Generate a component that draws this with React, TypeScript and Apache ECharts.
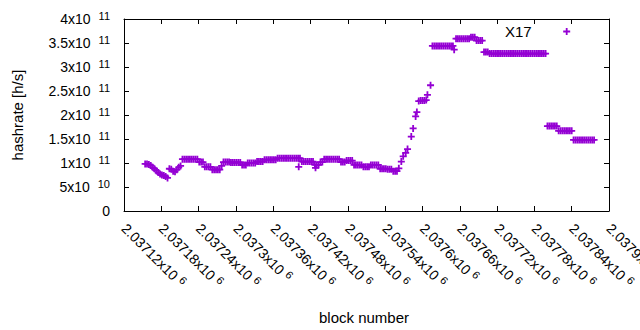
import React, { useEffect, useRef } from "react";
import * as echarts from "echarts";

// ---- data (block number, hashrate in units of 1e9 h/s) ----
const blockNumbers: number[] = [
  2037154, 2037157, 2037160, 2037163, 2037166, 2037169, 2037172, 2037175, 2037178, 2037181, 2037184, 2037187, 2037190,
  2037193, 2037196, 2037199, 2037202, 2037205, 2037208, 2037211,
  2037214, 2037217, 2037220, 2037223, 2037226, 2037229, 2037232, 2037235, 2037238,
  2037241, 2037244, 2037247,
  2037250, 2037253, 2037256, 2037259,
  2037262, 2037265, 2037268, 2037271, 2037274,
  2037277,
  2037280, 2037283, 2037286, 2037289,
  2037292, 2037295, 2037298, 2037301, 2037304, 2037307,
  2037310, 2037313, 2037316,
  2037319, 2037322, 2037325, 2037328, 2037331,
  2037334, 2037337, 2037340, 2037343,
  2037346, 2037349, 2037352, 2037355, 2037358, 2037361, 2037364,
  2037367, 2037370, 2037373, 2037376, 2037379, 2037382, 2037385, 2037388, 2037391, 2037394, 2037397, 2037400, 2037401, 2037403,
  2037406, 2037409, 2037412, 2037415, 2037418, 2037421, 2037424,
  2037427, 2037428, 2037430, 2037433,
  2037436, 2037439,
  2037442, 2037445, 2037448, 2037451, 2037454, 2037457, 2037460, 2037463, 2037466,
  2037469, 2037472, 2037475,
  2037478, 2037481, 2037484, 2037487,
  2037490, 2037493, 2037496, 2037499, 2037502,
  2037505, 2037508, 2037511, 2037514,
  2037517, 2037520, 2037523, 2037526, 2037529,
  2037532, 2037535, 2037538, 2037541,
  2037544, 2037547, 2037550,
  2037553, 2037556, 2037559,
  2037562, 2037566, 2037569, 2037573, 2037576, 2037582, 2037585, 2037589, 2037591,
  2037594, 2037597, 2037600, 2037603, 2037606, 2037608, 2037613,
  2037616, 2037619, 2037622, 2037625, 2037628, 2037631, 2037634, 2037637, 2037640, 2037643, 2037646, 2037649, 2037651,
  2037654, 2037657, 2037660, 2037663, 2037666, 2037669, 2037672, 2037675,
  2037678, 2037681, 2037684,
  2037687, 2037690, 2037693, 2037696,
  2037699, 2037702, 2037705,
  2037708, 2037711, 2037714, 2037717, 2037720, 2037723, 2037726, 2037729, 2037732, 2037735, 2037738,
  2037741, 2037744, 2037747, 2037750, 2037753, 2037756, 2037759, 2037762, 2037765, 2037768,
  2037771, 2037774, 2037777, 2037780, 2037783, 2037786, 2037789, 2037792, 2037795, 2037798,
  2037801, 2037804, 2037807, 2037810, 2037813, 2037816,
  2037819, 2037822, 2037825, 2037828, 2037831, 2037834, 2037837, 2037840,
  2037843, 2037846, 2037849, 2037852, 2037855, 2037858, 2037861, 2037864, 2037867, 2037870, 2037873, 2037876,
];

const hashrateG: number[] = [
  98, 98, 97, 95, 91, 88, 84, 80, 77, 75, 74, 72, 69,
  88, 87, 83, 82, 86, 91, 94,
  108, 108, 108, 108, 108, 108, 108, 108, 108,
  102, 102, 102,
  92, 92, 92, 92,
  86, 86, 86, 86, 86,
  94,
  102, 102, 102, 102,
  101, 101, 101, 101, 101, 101,
  96, 96, 96,
  100, 100, 100, 100, 100,
  103, 103, 103, 103,
  107, 107, 107, 107, 107, 107, 107,
  110, 110, 110, 110, 110, 110, 110, 110, 110, 110, 110, 110, 92, 110,
  103, 103, 103, 103, 103, 103, 103,
  96, 90, 96, 96,
  102, 102,
  108, 108, 108, 108, 108, 108, 108, 108, 108,
  102, 102, 102,
  105, 105, 105, 105,
  96, 96, 96, 96, 96,
  92, 92, 92, 92,
  96, 96, 96, 96, 96,
  88, 88, 88, 88,
  87, 87, 87,
  83, 83, 83,
  89, 103, 114, 121, 129, 155, 172, 197, 206,
  229, 230, 230, 230, 231, 242, 262,
  344, 344, 344, 344, 344, 344, 344, 344, 344, 344, 344, 344, 336,
  359, 359, 359, 359, 359, 359, 359, 359,
  362, 362, 362,
  355, 355, 355, 355,
  331, 331, 331,
  328, 328, 328, 328, 328, 328, 328, 328, 328, 328, 328,
  328, 328, 328, 328, 328, 328, 328, 328, 328, 328,
  328, 328, 328, 328, 328, 328, 328, 328, 328, 328,
  177, 177, 177, 177, 177, 177,
  167, 167, 167, 167, 167, 167, 167, 167,
  148, 148, 148, 148, 148, 148, 148, 148, 148, 148, 148, 148,
];

// ---- axes ----
const xMin = 2037120;
const xMax = 2037900;
const xStep = 60;
const xTickMantissas = [
  "2.03712", "2.03718", "2.03724", "2.0373", "2.03736", "2.03742", "2.03748",
  "2.03754", "2.0376", "2.03766", "2.03772", "2.03778", "2.03784", "2.0379",
];
const xTickExponents = ["6", "6", "6", "6", "6", "6", "6", "6", "6", "6", "6", "6", "6", "6"];

const yMin = 0;
const yMax = 4e11;
const yStep = 5e10;
const yTickMantissas = ["0", "5", "1", "1.5", "2", "2.5", "3", "3.5", "4"];
const yTickExponents = ["", "10", "11", "11", "11", "11", "11", "11", "11"];

const seriesName = "X17";
const FONT = "'Liberation Sans', Arial, Helvetica, sans-serif";
const COLOR = "#9400d3";
const PLUS = "path://M2.6,0H4.4V2.6H7V4.4H4.4V7H2.6V4.4H0V2.6H2.6Z";

function tickLabel(m: string, e: string): string {
  if (!e) return `{m|${m}}`;
  return `{m|${m}x10}{e|${e}}`;
}

function makeRich(gap: number) {
  return {
    m: { fontSize: 14, lineHeight: 18, color: "#000", fontFamily: FONT },
    e: { fontSize: 11, lineHeight: 11, verticalAlign: "top", padding: [0, 0, 0, gap], color: "#000", fontFamily: FONT },
  };
}

export default function App() {
  const ref = useRef<HTMLDivElement>(null);

  useEffect(() => {
    if (!ref.current) return;
    const chart = echarts.init(ref.current, undefined, { renderer: "svg" });
    const data = blockNumbers.map((b, i) => [b, hashrateG[i] * 1e9]);

    const axisLine = { show: true, onZero: false, lineStyle: { color: "#000", width: 1 } };
    const axisTick = { show: true, inside: true, length: 5, lineStyle: { color: "#000", width: 1 } };

    chart.setOption({
      animation: false,
      backgroundColor: "#ffffff",
      textStyle: { fontFamily: FONT },
      grid: { left: 124, right: 31, top: 19, bottom: 119, containLabel: false, outerBoundsMode: "none" },
      legend: {
        show: true,
        data: [{ name: seriesName, icon: PLUS }],
        left: 505,
        top: 24,
        padding: 0,
        align: "right",
        itemWidth: 60,
        itemHeight: 7,
        selectedMode: false,
        textStyle: { fontSize: 15, color: "#000", fontFamily: FONT },
      },
      xAxis: [
        {
          type: "value",
          position: "bottom",
          min: xMin,
          max: xMax,
          interval: xStep,
          name: "block number",
          nameLocation: "middle",
          nameGap: 99,
          nameMoveOverlap: false,
          nameTextStyle: { fontSize: 15, color: "#000", fontFamily: FONT, padding: [0, 5, 0, 0] },
          axisLine,
          axisTick,
          splitLine: { show: false },
          axisLabel: {
            rotate: -45,
            margin: 15,
            showMinLabel: true,
            showMaxLabel: true,
            hideOverlap: false,
            color: "#000",
            fontSize: 14,
            fontFamily: FONT,
            rich: makeRich(4),
            formatter: (v: number) => {
              const i = Math.round((v - xMin) / xStep);
              return tickLabel(xTickMantissas[i] ?? "", xTickExponents[i] ?? "");
            },
          },
        },
        {
          type: "value",
          position: "top",
          min: xMin,
          max: xMax,
          interval: xStep,
          axisLine,
          axisTick,
          axisLabel: { show: false },
          splitLine: { show: false },
        },
      ],
      yAxis: [
        {
          type: "value",
          position: "left",
          min: yMin,
          max: yMax,
          interval: yStep,
          name: "hashrate [h/s]",
          nameLocation: "middle",
          nameGap: 99,
          nameMoveOverlap: false,
          nameTextStyle: { fontSize: 15, color: "#000", fontFamily: FONT },
          axisLine,
          axisTick,
          splitLine: { show: false },
          axisLabel: {
            margin: 14,
            showMinLabel: true,
            showMaxLabel: true,
            color: "#000",
            fontSize: 14,
            fontFamily: FONT,
            rich: makeRich(8),
            formatter: (v: number) => {
              const i = Math.round((v - yMin) / yStep);
              return tickLabel(yTickMantissas[i] ?? "", yTickExponents[i] ?? "");
            },
          },
        },
        {
          type: "value",
          position: "right",
          min: yMin,
          max: yMax,
          interval: yStep,
          axisLine,
          axisTick,
          axisLabel: { show: false },
          splitLine: { show: false },
        },
      ],
      series: [
        {
          type: "scatter",
          name: seriesName,
          xAxisIndex: 0,
          yAxisIndex: 0,
          data,
          symbol: PLUS,
          symbolSize: 7,
          itemStyle: { color: COLOR, opacity: 1 },
          emphasis: { disabled: true },
        },
      ],
    });

    return () => chart.dispose();
  }, []);

  return (
    <div
      ref={ref}
      style={{ position: "fixed", left: 0, top: 0, width: 640, height: 330, background: "#fff" }}
    />
  );
}
